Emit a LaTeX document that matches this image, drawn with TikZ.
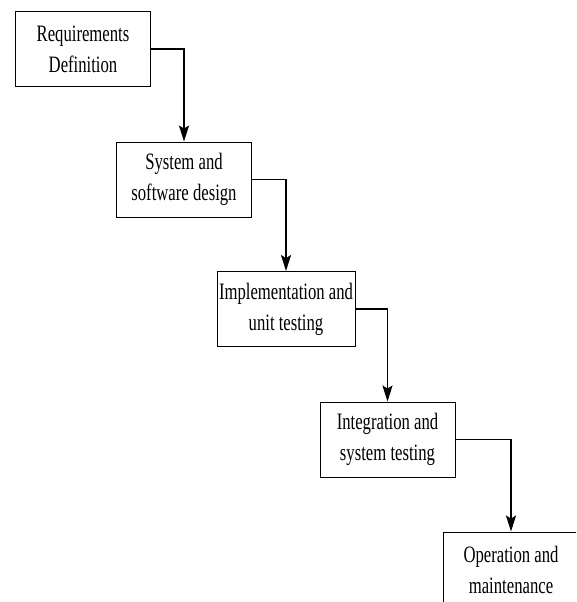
\documentclass[tikz,border=0pt]{standalone}
\usepackage{fontspec}
\setmainfont[FakeStretch=0.71]{Liberation Serif}
\usetikzlibrary{arrows.meta}
\tikzset {>={Stealth[length=16pt,width=10pt,inset=3pt]}}
\tikzset{phase/.style={draw,line width=0.9pt,minimum width=135pt,minimum height=75pt,inner sep=2pt,align=center,font=\fontsize{23.5pt}{31pt}\selectfont}}
\tikzset{flow/.style={->,line width=1.8pt}}

\begin{document}
\begin{tikzpicture}[x=1pt,y=-1pt]
\useasboundingbox (0,0) rectangle (576,602);
\clip (0,0) rectangle (576,602);
\node[phase] (req) at (83,49) {Requirements\\Definition};
\node[phase] (sys) at (184,179.5) {System and\\software design};
\node[phase] (impl) at (286,309) {Implementation and\\unit testing};
\node[phase] (integ) at (387.5,439.5) {Integration and\\system testing};
\node[phase] (oper) at (511,569.5) {Operation and\\maintenance};

\draw[flow] (req.east) -| (sys.north);
\draw[flow] (sys.east) -| (impl.north);
\draw[flow] (impl.east) -| (integ.north);
\draw[flow] (integ.east) -| (oper.north);
\end{tikzpicture}
\end{document}
